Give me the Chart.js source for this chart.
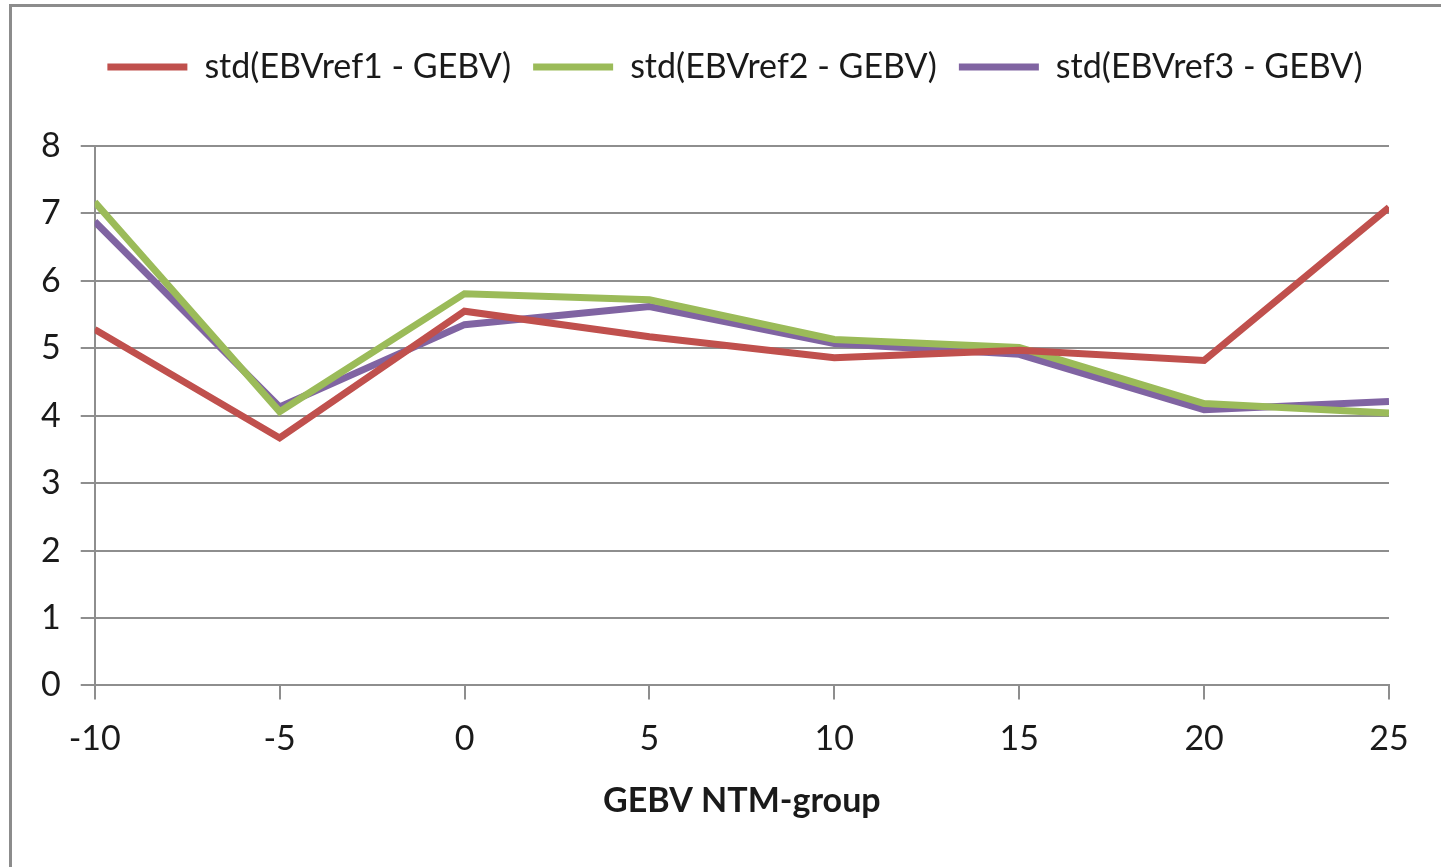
<!DOCTYPE html>
<html>
<head>
<meta charset="utf-8">
<script src="https://cdn.jsdelivr.net/npm/chart.js@4/dist/chart.umd.min.js"></script>
<style>
  html, body { margin: 0; padding: 0; background: #ffffff; overflow: hidden; }
  #wrap { position: relative; width: 1441px; height: 867px; }
  #frame { position: absolute; left: 9px; top: 4px; width: 1440px; height: 900px;
           border: 3px solid #8c8c8c; box-sizing: border-box; }
  #chart { position: absolute; left: 0; top: 0; }
</style>
</head>
<body>
<div id="wrap">
  <div id="frame"></div>
  <canvas id="chart" width="1441" height="867"></canvas>
</div>
<script>
// ---- data ----
const groups = [-10, -5, 0, 5, 10, 15, 20, 25];          // GEBV NTM-group
const ref1 = [5.28, 3.67, 5.55, 5.17, 4.86, 4.97, 4.82, 7.09];
const ref2 = [7.17, 4.06, 5.81, 5.72, 5.13, 5.01, 4.18, 4.04];
const ref3 = [6.88, 4.13, 5.35, 5.62, 5.07, 4.91, 4.09, 4.21];
const seriesNames = ["std(EBVref1 - GEBV)", "std(EBVref2 - GEBV)", "std(EBVref3 - GEBV)"];
const seriesColors = ["#C0504D", "#9BBB59", "#8064A2"];

const FONT = "Lato, 'Open Sans', sans-serif";
const FSIZE = 34;
const gridGray = "#8e8e8e";

// build {x,y} points for a linear x scale
function toPoints(vals) {
    return groups.map((g, i) => ({ x: g, y: vals[i] }));
}

const datasets = [ref1, ref2, ref3].map((vals, i) => ({
    label: seriesNames[i],
    data: toPoints(vals),
    borderColor: seriesColors[i],
    backgroundColor: seriesColors[i],
    borderWidth: 7,
    pointRadius: 0,
    tension: 0,
    fill: false
}));

// move the legend: a bit right and up, leaving a gap above the plot
const legendShift = {
    id: "legendShift",
    afterLayout(chart) {
        chart.legend.left += 30;
        chart.legend.right += 30;
        chart.legend.top -= 52;
        chart.legend.bottom -= 52;
    }
};

new Chart(document.getElementById("chart"), {
    type: "line",
    data: { datasets: datasets },
    options: {
        responsive: false,
        animation: false,
        layout: { padding: { left: 21, right: 52, top: 80, bottom: 46 } },
        plugins: {
            legend: {
                position: "top",
                labels: {
                    font: { family: FONT, size: FSIZE },
                    color: "#1a1a1a",
                    usePointStyle: true,
                    pointStyle: "line",
                    pointStyleWidth: 80,
                    padding: 22
                }
            },
            tooltip: { enabled: false }
        },
        scales: {
            x: {
                type: "linear",
                min: -10,
                max: 25,
                ticks: {
                    stepSize: 5,
                    font: { family: FONT, size: FSIZE },
                    color: "#1a1a1a",
                    padding: 19
                },
                grid: {
                    drawOnChartArea: false,
                    drawTicks: true,
                    tickLength: 14,
                    color: gridGray,
                    lineWidth: 2
                },
                border: { color: gridGray, width: 2 },
                title: {
                    display: true,
                    text: "GEBV NTM-group",
                    font: { family: FONT, size: FSIZE, weight: "bold" },
                    color: "#1a1a1a",
                    padding: { top: 2, bottom: 0 }
                }
            },
            y: {
                min: 0,
                max: 8,
                ticks: {
                    stepSize: 1,
                    font: { family: FONT, size: FSIZE },
                    color: "#1a1a1a",
                    padding: 20
                },
                grid: {
                    color: gridGray,
                    lineWidth: 2,
                    tickLength: 14
                },
                border: { color: gridGray, width: 2 }
            }
        }
    },
    plugins: [legendShift]
});
</script>
</body>
</html>
